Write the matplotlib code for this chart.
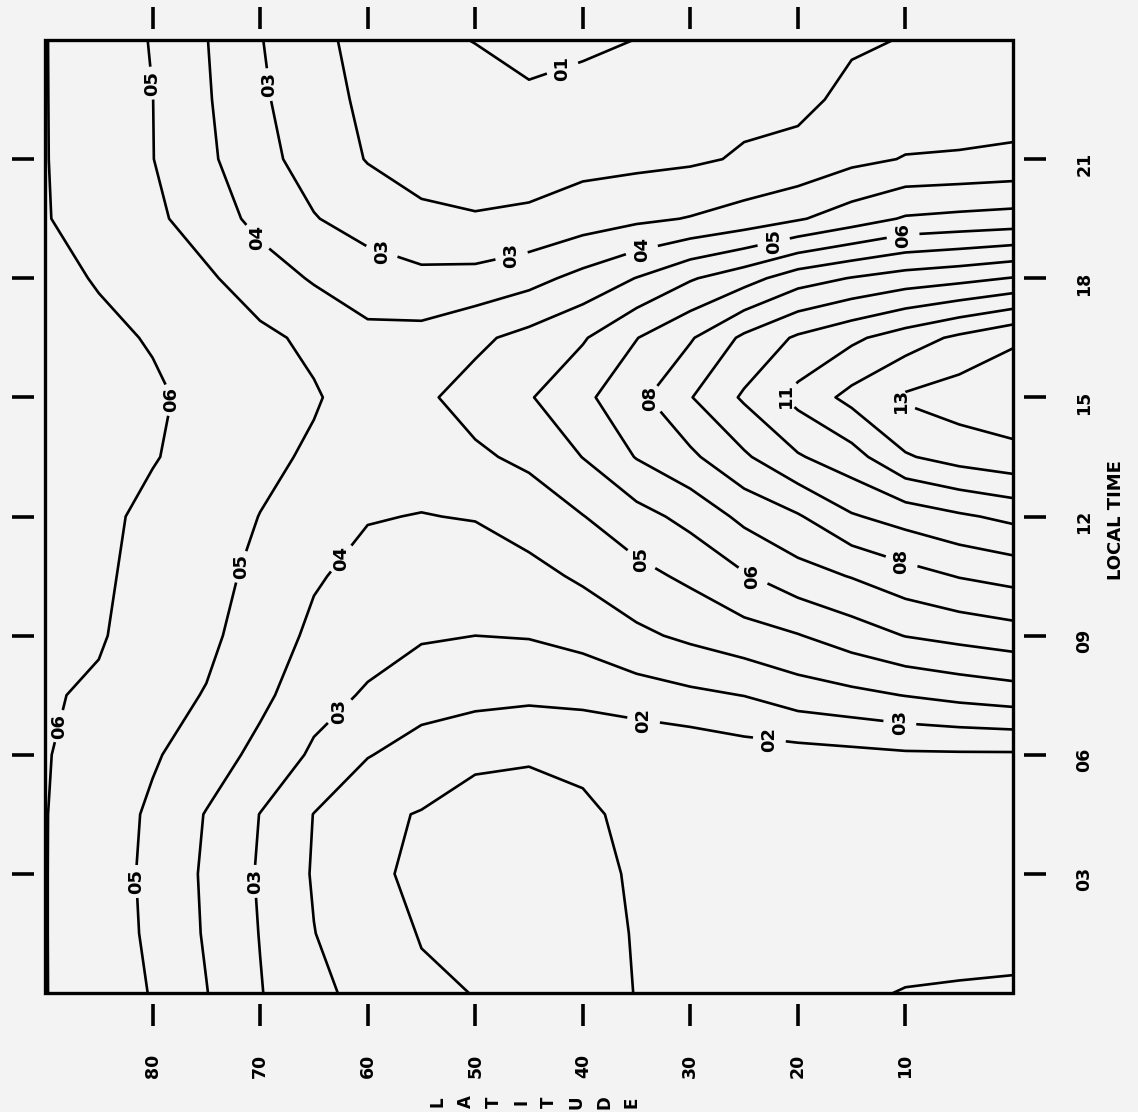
import numpy as np
import matplotlib
matplotlib.use("Agg")
import matplotlib.pyplot as plt
from matplotlib.patches import Rectangle

# grid: latitude (deg) across, local time (h) up
latitude = [90, 85, 80, 75, 70, 65, 60, 55, 50, 45, 40, 35, 30, 25, 20, 15, 10, 5, 0]
local_time = [0, 1.5, 3, 4.5, 6, 7.5, 9, 10.5, 12, 13.5, 15, 16.5, 18, 19.5, 21, 22.5, 24]

# one list per latitude, value at each local time above
lat90 = [6.03, 6.03, 6.03, 6.03, 6.05, 6.1, 6.3, 6.35, 6.35, 6.38, 6.4, 6.35, 6.2, 6.04, 6.03, 6.03, 6.03]
lat85 = [5.5, 5.45, 5.45, 5.5, 5.65, 5.85, 6.1, 6.2, 6.2, 6.2, 6.25, 6.15, 5.95, 5.7, 5.6, 5.55, 5.5]
lat80 = [4.95, 4.85, 4.8, 4.85, 5.1, 5.35, 5.5, 5.6, 5.8, 6.05, 6.1, 5.95, 5.5, 5.2, 5.02, 5.01, 4.95]
lat75 = [4.03, 3.9, 3.85, 3.95, 4.55, 4.95, 5.2, 5.35, 5.5, 5.7, 5.82, 5.55, 5.15, 4.55, 4.2, 4.1, 4.03]
lat70 = [3.05, 2.97, 2.9, 2.98, 3.7, 4.25, 4.55, 4.75, 4.98, 5.25, 5.46, 5.2, 4.5, 3.7, 3.3, 3.15, 3.05]
lat65 = [2.2, 2.02, 1.92, 1.98, 2.85, 3.35, 3.8, 4.1, 4.4, 4.85, 5.09, 4.8, 3.9, 3.05, 2.6, 2.4, 2.2]
lat60 = [1.75, 1.45, 1.1, 1.2, 2.05, 2.9, 3.35, 3.7, 4.05, 4.35, 4.55, 4.25, 3.45, 2.6, 1.95, 1.8, 1.75]
lat55 = [1.15, 0.95, 0.9, 0.95, 1.6, 2.4, 3.1, 3.55, 3.97, 4.4, 4.83, 4.3, 3.25, 2.15, 1.7, 1.45, 1.15]
lat50 = [0.98, 0.9, 0.85, 0.88, 1.06, 2.35, 3.0, 3.45, 4.05, 4.85, 5.36, 4.8, 3.3, 2.05, 1.65, 1.3, 0.98]
lat45 = [0.7, 0.68, 0.7, 0.8, 1.05, 2.2, 3.05, 3.7, 4.45, 5.2, 5.92, 5.3, 3.67, 2.15, 1.6, 1.15, 0.7]
lat40 = [0.85, 0.82, 0.85, 0.93, 1.09, 2.3, 3.3, 4.15, 4.97, 6.02, 6.77, 5.9, 4.3, 2.5, 1.7, 1.27, 0.85]
lat35 = [1.01, 1.03, 1.06, 1.1, 1.18, 2.55, 3.8, 4.7, 5.65, 7.05, 7.73, 6.97, 5.03, 2.8, 1.75, 1.3, 1.01]
lat30 = [1.3, 1.3, 1.28, 1.27, 1.3, 2.8, 4.2, 5.2, 6.3, 7.8, 8.95, 7.9, 5.9, 3.05, 1.85, 1.55, 1.3]
lat25 = [1.6, 1.55, 1.5, 1.48, 1.55, 3.02, 4.6, 5.9, 7.25, 8.85, 10.14, 9.2, 6.6, 3.4, 2.1, 1.75, 1.6]
lat20 = [1.6, 1.58, 1.6, 1.6, 1.62, 3.5, 4.95, 6.6, 7.9, 9.9, 11.3, 10.15, 7.55, 3.9, 2.25, 1.8, 1.6]
lat15 = [1.9, 1.7, 1.62, 1.68, 1.73, 3.75, 5.5, 7.05, 8.9, 10.6, 12.3, 10.8, 8.05, 4.5, 2.75, 2.2, 1.9]
lat10 = [2.03, 1.72, 1.62, 1.7, 1.86, 4.03, 6.03, 7.6, 9.4, 11.9, 13.15, 11.5, 8.45, 5.1, 3.05, 2.4, 2.03]
lat5 = [2.08, 1.7, 1.6, 1.68, 1.88, 4.3, 6.3, 8.05, 9.85, 12.4, 13.5, 12.2, 8.7, 5.25, 3.1, 2.45, 2.08]
lat0 = [2.15, 1.65, 1.55, 1.65, 1.88, 4.52, 6.55, 8.34, 10.24, 12.7, 13.7, 12.85, 9.05, 5.37, 3.2, 2.5, 2.15]

levels = [1, 2, 3, 4, 5, 6, 7, 8, 9, 10, 11, 12, 13]

lat_ticks = [10, 20, 30, 40, 50, 60, 70, 80]
time_ticks = [3, 6, 9, 12, 15, 18, 21]
time_ticklabels = ["03", "06", "09", "12", "15", "18", "21"]

# where the printed contour labels sit (latitude, local time)
label_spots = {
    1: [(41.9, 23.3)],
    2: [(34.3, 6.96), (22.6, 6.5)],
    3: [(68.5, 22.9), (58.7, 18.66), (46.7, 18.66), (63.0, 7.2), (10.5, 6.86), (71.1, 2.8)],
    4: [(70.4, 19.0), (34.5, 18.7), (63.2, 11.1)],
    5: [(80.6, 22.9), (22.4, 19.1), (72.5, 10.8), (34.5, 10.95), (82.1, 2.8)],
    6: [(77.4, 14.9), (10.3, 19.2), (24.2, 10.5), (88.4, 6.7)],
    8: [(33.6, 15.0), (10.5, 10.75)],
    11: [(21.4, 15.1)],
    13: [(10.5, 14.9)],
}

axis_title = "LATITUDE"

bg = "#f3f3f3"
plt.rcParams["font.family"] = "DejaVu Sans"
plt.rcParams["font.weight"] = "bold"

fig = plt.figure(figsize=(11.38, 11.12), dpi=100, facecolor=bg)
ax = fig.add_axes([45 / 1138, 1 - 993 / 1112, 968 / 1138, 953 / 1112])
ax.set_facecolor(bg)

columns = [lat90, lat85, lat80, lat75, lat70, lat65, lat60, lat55, lat50, lat45,
           lat40, lat35, lat30, lat25, lat20, lat15, lat10, lat5, lat0]
Z = np.column_stack(columns)

# one contour set per level so each label lands on its own line
for lev in levels:
    cs = ax.contour(latitude, local_time, Z, levels=[lev], colors="black",
                    linewidths=1.9)
    if lev in label_spots:
        txts = cs.clabel(manual=label_spots[lev], fmt="%02d", fontsize=13,
                         inline=True, inline_spacing=4)
        for t in txts:
            t.set_rotation(90)

ax.set_xlim(90, 0)
ax.set_ylim(0, 24)
ax.set_xticks(lat_ticks)
ax.set_xticklabels([str(v) for v in lat_ticks])
ax.set_yticks(time_ticks)
ax.set_yticklabels(time_ticklabels)

# ticks sit a little away from the frame, like the plotter drew them
for side in ["top", "bottom", "left", "right"]:
    ax.spines[side].set_position(("outward", 8))
    ax.spines[side].set_visible(False)
ax.tick_params(axis="x", top=True, bottom=True, labeltop=False, labelbottom=True,
               direction="out", length=16, width=2.6, pad=20, labelsize=12.5,
               labelrotation=90)
ax.tick_params(axis="y", left=True, right=True, labelleft=False, labelright=True,
               direction="out", length=16, width=2.6, pad=21, labelsize=12.5,
               labelrotation=90)
ax.add_patch(Rectangle((0, 0), 1, 1, transform=ax.transAxes, fill=False, lw=2.4,
                       ec="black", clip_on=False, zorder=5))

fig.text(1116 / 1138, 1 - 520 / 1112, "LOCAL TIME", rotation=90, ha="center",
         va="center", fontsize=13)
# the vertical axis title of the unrotated plot: each letter turned on its side
for i, ch in enumerate(axis_title):
    fig.text((438 + i * 27.7) / 1138, 1 - 1102 / 1112, ch, rotation=90,
             ha="center", va="center", fontsize=12)

fig.savefig("out.png", dpi=100, facecolor=bg)
